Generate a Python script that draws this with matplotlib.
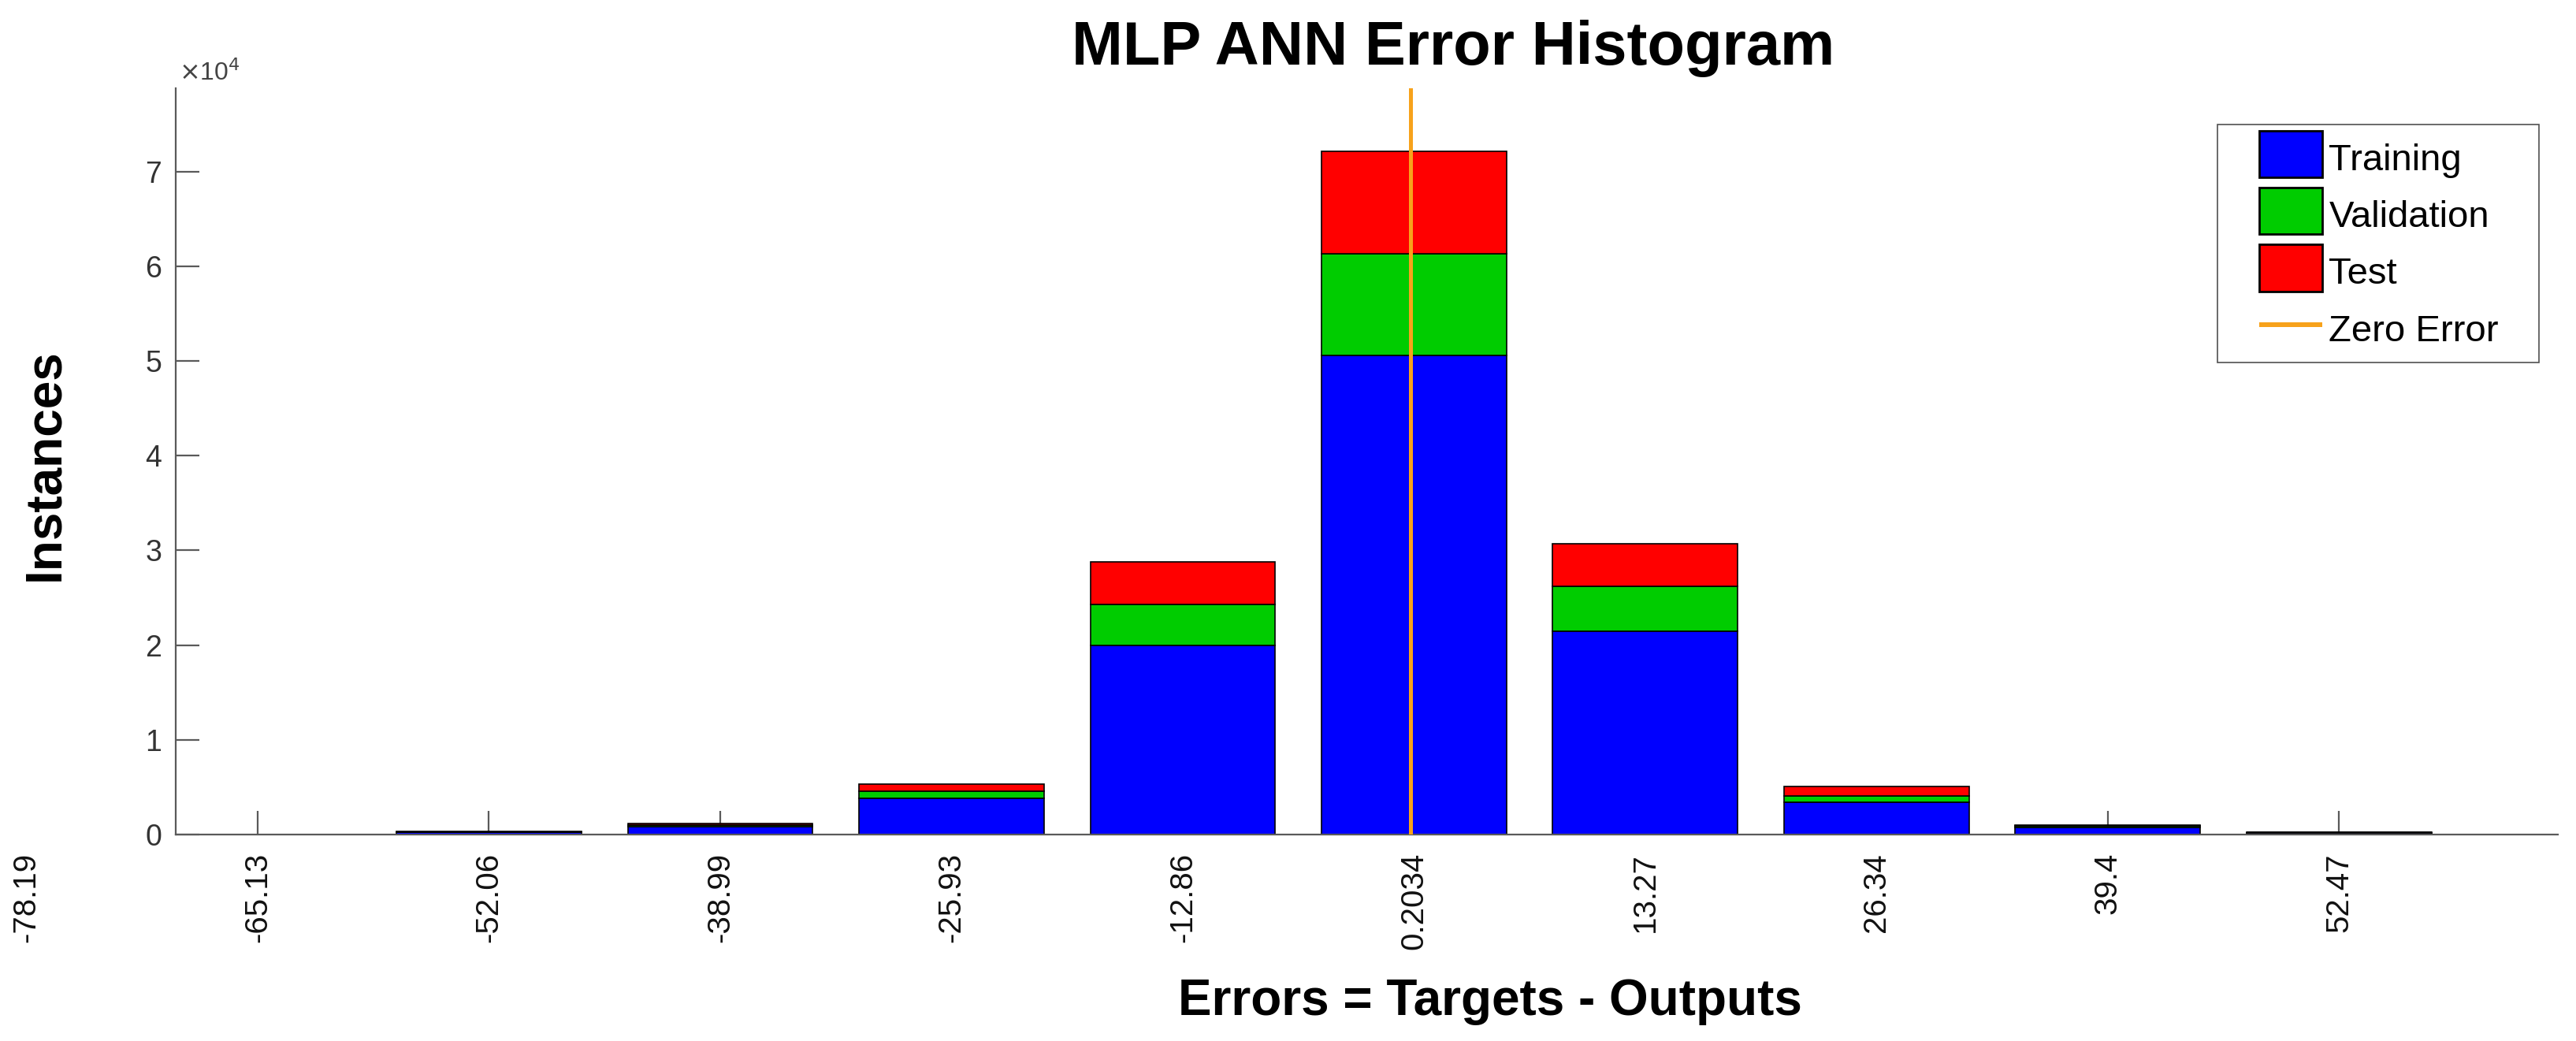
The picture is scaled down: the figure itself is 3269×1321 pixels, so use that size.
import matplotlib
matplotlib.use("Agg")
import matplotlib.pyplot as plt
import matplotlib.transforms as mtransforms
from matplotlib.patches import Rectangle, Patch
from matplotlib.legend_handler import HandlerPatch
import numpy as np

# ---------------- data ----------------
bin_centers = [-78.19, -65.13, -52.06, -38.99, -25.93, -12.86, 0.2034, 13.27, 26.34, 39.4, 52.47]
tick_labels = ['-78.19', '-65.13', '-52.06', '-38.99', '-25.93', '-12.86', '0.2034',
               '13.27', '26.34', '39.4', '52.47']
training   = [0, 5, 220, 850, 3800, 20000, 50600, 21500, 3400, 750, 200]
validation = [0, 1, 40, 150, 780, 4300, 10700, 4700, 700, 140, 40]
test       = [0, 1, 40, 150, 750, 4500, 10850, 4500, 970, 140, 40]
y_ticks = [0, 1, 2, 3, 4, 5, 6, 7]
series_names = ['Training', 'Validation', 'Test', 'Zero Error']

# ---------------- style ----------------
plt.rcParams['font.family'] = ['Liberation Sans', 'DejaVu Sans']
C_BLUE = '#0000ff'
C_GREEN = '#00cc00'
C_RED = '#ff0000'
C_ORANGE = '#f7a21b'
AX_GRAY = '#5a5a5a'

W, H, DPI = 3269, 1321, 200
fig = plt.figure(figsize=(W / DPI, H / DPI), dpi=DPI)
ax = fig.add_axes([223 / W, 1 - 1059 / H, (3246 - 223) / W, (1059 - 112) / H])

centers = np.array(bin_centers)
tr = np.array(training)
va = np.array(validation)
te = np.array(test)
step = centers[1] - centers[0]
bw = 0.8 * step

ax.bar(centers, tr, width=bw, color=C_BLUE, edgecolor='black', linewidth=0.6, zorder=2)
ax.bar(centers, va, width=bw, bottom=tr, color=C_GREEN, edgecolor='black', linewidth=0.6, zorder=2)
ax.bar(centers, te, width=bw, bottom=tr + va, color=C_RED, edgecolor='black', linewidth=0.6, zorder=2)
ax.axvline(0, color=C_ORANGE, linewidth=1.8, zorder=3)

ax.set_xlim(-69.75, 64.83)
ax.set_ylim(0, 7.88e4)

# spines (box off)
for s in ['top', 'right']:
    ax.spines[s].set_visible(False)
for s in ['left', 'bottom']:
    ax.spines[s].set_color(AX_GRAY)
    ax.spines[s].set_linewidth(0.8)

# x ticks
vis_idx = [i for i, c in enumerate(bin_centers) if c >= -69.75]
ax.set_xticks([bin_centers[i] for i in vis_idx])
ax.set_xticklabels([tick_labels[i] for i in vis_idx], rotation=90, fontsize=14.5, color='#111111')
ax.tick_params(axis='x', direction='in', length=10.8, width=0.8, color=AX_GRAY, pad=8.3)

# out-of-range first tick label (shown by the original)
trans = mtransforms.blended_transform_factory(ax.transData, ax.transAxes)
ax.text(bin_centers[0], -23 / 947, tick_labels[0], rotation=90, ha='center', va='top',
        fontsize=14.5, color='#111111', transform=trans, clip_on=False)

# y ticks (in units of 1e4)
ax.set_yticks([v * 1e4 for v in y_ticks])
ax.set_yticklabels([str(v) for v in y_ticks], fontsize=13.5, color='#333333')
ax.tick_params(axis='y', direction='in', length=10.8, width=0.8, color=AX_GRAY, pad=6.5)

fig.text(227 / W, 1 - 102 / H, r'$\times$10$^{4}$', fontsize=11.5, color='#444444',
         ha='left', va='baseline')

# labels and title
fig.text(1360 / W, 1 - 82 / H, 'MLP ANN Error Histogram', fontsize=28, fontweight='bold',
         ha='left', va='baseline')
fig.text(1495 / W, 1 - 1288 / H, 'Errors = Targets - Outputs', fontsize=23, fontweight='bold',
         ha='left', va='baseline')
fig.text(57 / W, 1 - 590 / H, 'Instances', fontsize=23, fontweight='bold', rotation=90,
         ha='center', va='center')

# legend
LEG_FS = 17.0
fs_px = LEG_FS * DPI / 72.0
patch_w_px = 80.0


def make_patch(legend, orig_handle, xdescent, ydescent, width, height, fontsize):
    pw = patch_w_px / fs_px * fontsize
    fc = orig_handle.get_facecolor()
    if orig_handle.get_label() == 'Zero Error':
        th = 6.0 / fs_px * fontsize
        total = height + ydescent
        return Rectangle((-xdescent + width - pw, -ydescent + total / 2 - th / 2), pw, th,
                         facecolor=C_ORANGE, edgecolor='none')
    return Rectangle((-xdescent + width - pw, -ydescent), pw, height + ydescent,
                     facecolor=fc, edgecolor='black', linewidth=0.6)


handles = [Patch(facecolor=C_BLUE, edgecolor='black', label=series_names[0]),
           Patch(facecolor=C_GREEN, edgecolor='black', label=series_names[1]),
           Patch(facecolor=C_RED, edgecolor='black', label=series_names[2]),
           Patch(facecolor=C_ORANGE, edgecolor='none', label=series_names[3])]
hm = {h: HandlerPatch(patch_func=make_patch) for h in handles}

leg_left, leg_right, leg_top, leg_bottom = 2814, 3222, 158, 460
leg = fig.legend(handles=handles, handler_map=hm, loc='upper left',
                 bbox_to_anchor=(leg_left / W, 1 - (leg_top + 7) / H),
                 bbox_transform=fig.transFigure, borderaxespad=0,
                 fontsize=LEG_FS, handlelength=(42.5 + 80) / fs_px, handleheight=1.25,
                 handletextpad=0.18, labelspacing=0.45, borderpad=0.22,
                 frameon=False)
fig.patches.append(Rectangle((leg_left / W, 1 - leg_bottom / H),
                             (leg_right - leg_left) / W, (leg_bottom - leg_top) / H,
                             transform=fig.transFigure, facecolor='white',
                             edgecolor='#505050', linewidth=0.6, zorder=4))
leg.set_zorder(5)

fig.savefig('out.png', dpi=DPI)
